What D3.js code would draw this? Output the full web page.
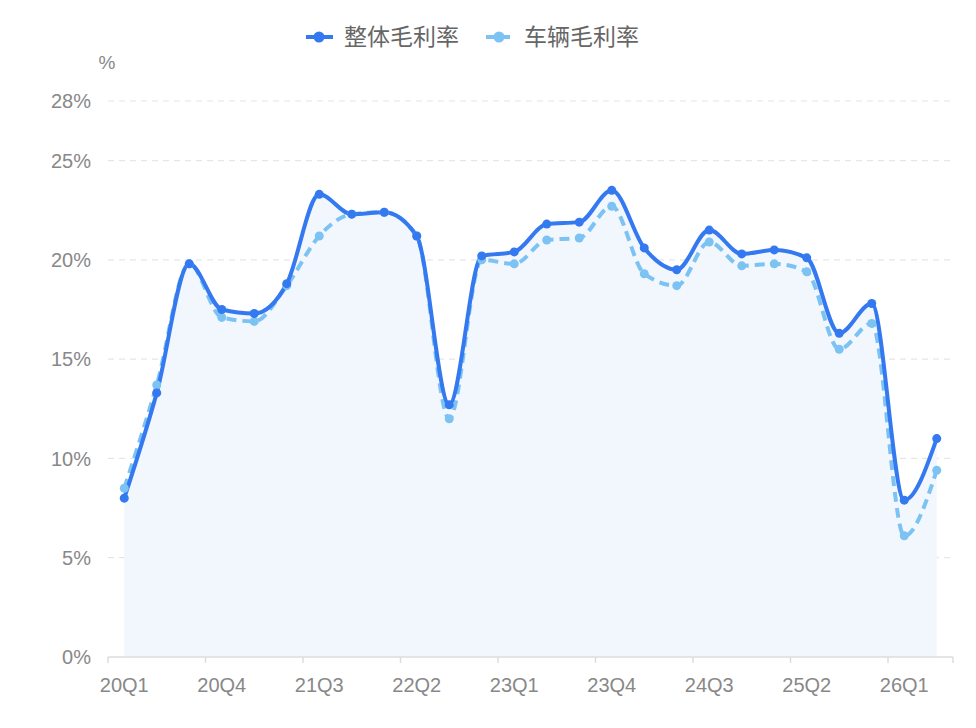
<!DOCTYPE html>
<html>
<head>
<meta charset="utf-8">
<script src="https://cdn.jsdelivr.net/npm/d3@7/dist/d3.min.js"></script>
<style>
  body { margin: 0; background: #fff; }
  svg { display: block; font-family: "Liberation Sans", Helvetica, Arial, "Noto Sans CJK SC", sans-serif; }
</style>
</head>
<body>
<svg id="chart" width="976" height="728"></svg>
<script>
// quarters 20Q1 .. 26Q2
const quarters = ['20Q1','20Q2','20Q3','20Q4','21Q1','21Q2','21Q3','21Q4','22Q1','22Q2','22Q3','22Q4',
  '23Q1','23Q2','23Q3','23Q4','24Q1','24Q2','24Q3','24Q4','25Q1','25Q2','25Q3','25Q4','26Q1','26Q2'];
// 整体毛利率 (%)
const overall = [8.0, 13.3, 19.8, 17.5, 17.3, 18.8, 23.3, 22.3, 22.4, 21.2, 12.7, 20.2,
  20.4, 21.8, 21.9, 23.5, 20.6, 19.5, 21.5, 20.3, 20.5, 20.1, 16.3, 17.8, 7.9, 11.0];
// 车辆毛利率 (%)
const vehicle = [8.5, 13.7, 19.8, 17.1, 16.9, 18.7, 21.2, 22.3, 22.4, 21.2, 12.0, 20.0,
  19.8, 21.0, 21.1, 22.7, 19.3, 18.7, 20.9, 19.7, 19.8, 19.4, 15.5, 16.8, 6.1, 9.4];
const yTicks = [0, 5, 10, 15, 20, 25, 28];
const seriesNames = ['整体毛利率', '车辆毛利率'];

const svg = d3.select('#chart');
const margin = { left: 108, right: 23, top: 101, bottom: 71 };
const W = 976, H = 728;

const x = d3.scaleBand().domain(quarters).range([margin.left, W - margin.right]);
const y = d3.scaleLinear().domain([0, 28]).range([H - margin.bottom, margin.top]);
const cx = q => x(q) + x.bandwidth() / 2;

// grid
svg.append('g').selectAll('line')
  .data(yTicks.filter(d => d > 0))
  .join('line')
  .attr('x1', margin.left).attr('x2', W - margin.right)
  .attr('y1', d => y(d)).attr('y2', d => y(d))
  .attr('stroke', '#e6e6e6').attr('stroke-width', 1.2)
  .attr('stroke-dasharray', '6,5');

// y labels
svg.append('g').selectAll('text')
  .data(yTicks)
  .join('text')
  .attr('x', 91).attr('y', d => y(d))
  .attr('dy', '0.36em')
  .attr('text-anchor', 'end')
  .attr('fill', '#888')
  .attr('font-size', 20)
  .text(d => d + '%');

svg.append('text')
  .attr('x', 107).attr('y', 62).attr('dy', '0.36em')
  .attr('text-anchor', 'middle')
  .attr('fill', '#888').attr('font-size', 19)
  .text('%');

const rowsO = quarters.map((q, i) => ({ q, v: overall[i] }));
const rowsV = quarters.map((q, i) => ({ q, v: vehicle[i] }));

const line = d3.line().x(d => cx(d.q)).y(d => y(d.v)).curve(d3.curveMonotoneX);
const area = d3.area().x(d => cx(d.q)).y0(y(0)).y1(d => y(d.v)).curve(d3.curveMonotoneX);

// area under overall line
svg.append('path')
  .attr('d', area(rowsO))
  .attr('fill', '#f2f7fe');

// x axis
const xAxisG = svg.append('g');
xAxisG.append('line')
  .attr('x1', margin.left).attr('x2', W - margin.right)
  .attr('y1', y(0)).attr('y2', y(0))
  .attr('stroke', '#dcdcdc').attr('stroke-width', 1.5);
const tickQs = quarters.filter((q, i) => i % 3 === 0);
xAxisG.selectAll('line.tick')
  .data(tickQs.map(q => x(q)).concat([W - margin.right]))
  .join('line').attr('class', 'tick')
  .attr('x1', d => d).attr('x2', d => d)
  .attr('y1', y(0)).attr('y2', y(0) + 6)
  .attr('stroke', '#dcdcdc').attr('stroke-width', 1.5);
xAxisG.selectAll('text')
  .data(tickQs)
  .join('text')
  .attr('x', d => cx(d)).attr('y', 685)
  .attr('dy', '0.36em')
  .attr('text-anchor', 'middle')
  .attr('fill', '#888').attr('font-size', 20)
  .text(d => d);

// vehicle line (dashed, drawn below)
svg.append('path')
  .attr('d', line(rowsV))
  .attr('fill', 'none')
  .attr('stroke', '#7cc3f3').attr('stroke-width', 4)
  .attr('stroke-dasharray', '10,6');

// overall line
svg.append('path')
  .attr('d', line(rowsO))
  .attr('fill', 'none')
  .attr('stroke', '#3479ef').attr('stroke-width', 4);

svg.append('g').selectAll('circle')
  .data(rowsV).join('circle')
  .attr('cx', d => cx(d.q)).attr('cy', d => y(d.v)).attr('r', 4.5)
  .attr('fill', '#7cc3f3');

svg.append('g').selectAll('circle')
  .data(rowsO).join('circle')
  .attr('cx', d => cx(d.q)).attr('cy', d => y(d.v)).attr('r', 4.5)
  .attr('fill', '#3479ef');

// legend
const legend = [
  { name: seriesNames[0], color: '#3479ef', dash: null, x: 306 },
  { name: seriesNames[1], color: '#7cc3f3', dash: '10,6', x: 486 }
];
const lg = svg.append('g').selectAll('g').data(legend).join('g')
  .attr('transform', d => `translate(${d.x},37)`);
lg.append('line')
  .attr('x1', 0).attr('x2', 27).attr('y1', 0).attr('y2', 0)
  .attr('stroke', d => d.color).attr('stroke-width', 4)
  .attr('stroke-dasharray', d => d.dash ? '14,4,6' : null);
lg.append('circle')
  .attr('cx', 13).attr('cy', 0).attr('r', 5.5)
  .attr('fill', d => d.color);
lg.append('text')
  .attr('x', 38).attr('y', 0).attr('dy', '0.36em')
  .attr('fill', '#666').attr('font-size', 23)
  .attr('font-family', '"Noto Sans CJK SC", sans-serif')
  .text(d => d.name);
</script>
</body>
</html>
